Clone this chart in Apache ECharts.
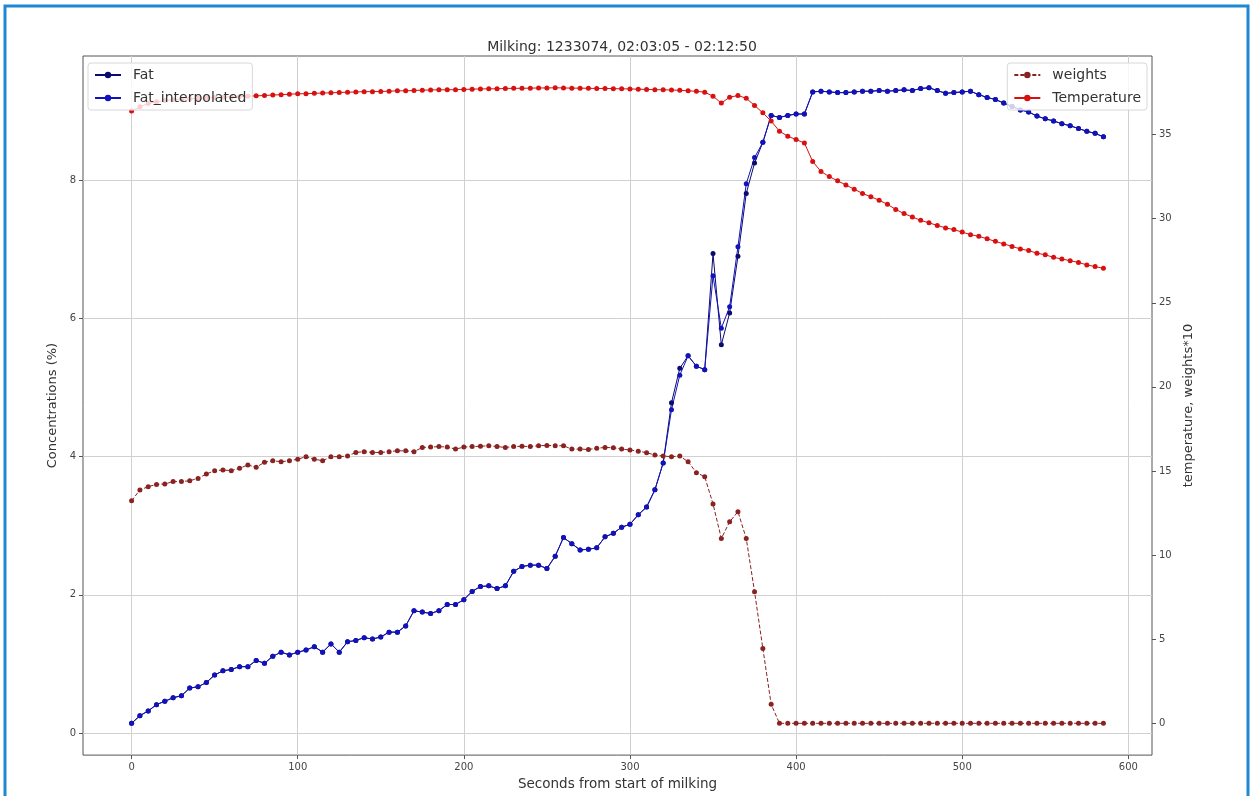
<!DOCTYPE html>
<html>
<head>
<meta charset="utf-8">
<title>Milking</title>
<script src="https://cdn.jsdelivr.net/npm/echarts@6/dist/echarts.min.js"></script>
<style>
html,body{margin:0;padding:0;background:#fff;}
#chart{width:1254px;height:796px;}
</style>
</head>
<body>
<div id="chart"></div>
<script>
// seconds from start of milking (one sample every 5 s)
var seconds = [0,5,10,15,20,25,30,35,40,45,50,55,60,65,70,75,80,85,90,95,
  100,105,110,115,120,125,130,135,140,145,150,155,160,165,170,175,180,185,190,195,
  200,205,210,215,220,225,230,235,240,245,250,255,260,265,270,275,280,285,290,295,
  300,305,310,315,320,325,330,335,340,345,350,355,360,365,370,375,380,385,390,395,
  400,405,410,415,420,425,430,435,440,445,450,455,460,465,470,475,480,485,490,495,
  500,505,510,515,520,525,530,535,540,545,550,555,560,565,570,575,580,585];

var fatValues = [0.14,0.25,0.32,0.41,0.46,0.51,0.54,0.65,0.67,0.73,0.84,0.90,0.92,0.96,0.96,1.05,1.01,1.11,1.17,1.13,
  1.17,1.20,1.25,1.17,1.29,1.17,1.32,1.34,1.38,1.36,1.39,1.46,1.46,1.55,1.77,1.75,1.73,1.77,1.86,1.86,
  1.93,2.05,2.12,2.13,2.09,2.13,2.34,2.41,2.43,2.43,2.38,2.56,2.83,2.74,2.65,2.66,2.68,2.84,2.89,2.98,
  3.02,3.16,3.27,3.52,3.91,4.78,5.28,5.46,5.31,5.26,6.94,5.62,6.08,6.90,7.81,8.25,8.55,8.94,8.91,8.94,
  8.96,8.96,9.28,9.29,9.28,9.27,9.27,9.28,9.29,9.29,9.30,9.29,9.30,9.31,9.30,9.33,9.34,9.30,9.26,9.27,
  9.28,9.29,9.24,9.20,9.17,9.12,9.07,9.02,8.99,8.93,8.89,8.86,8.82,8.79,8.75,8.71,8.68,8.63];

var fatInterpValues = [0.14,0.25,0.32,0.41,0.46,0.51,0.54,0.65,0.67,0.73,0.84,0.90,0.92,0.96,0.96,1.05,1.01,1.11,1.17,1.13,
  1.17,1.20,1.25,1.17,1.29,1.17,1.32,1.34,1.38,1.36,1.39,1.46,1.46,1.55,1.77,1.75,1.73,1.77,1.86,1.86,
  1.93,2.05,2.12,2.13,2.09,2.13,2.34,2.41,2.43,2.43,2.38,2.56,2.83,2.74,2.65,2.66,2.68,2.84,2.89,2.98,
  3.02,3.16,3.27,3.52,3.91,4.68,5.18,5.46,5.31,5.26,6.62,5.86,6.17,7.04,7.95,8.33,8.55,8.94,8.91,8.94,
  8.96,8.96,9.28,9.29,9.28,9.27,9.27,9.28,9.29,9.29,9.30,9.29,9.30,9.31,9.30,9.33,9.34,9.30,9.26,9.27,
  9.28,9.29,9.24,9.20,9.17,9.12,9.07,9.02,8.99,8.93,8.89,8.86,8.82,8.79,8.75,8.71,8.68,8.63];

// weights*10
var weightValues = [13.23,13.87,14.07,14.2,14.23,14.37,14.37,14.42,14.56,14.82,15.02,15.06,15.02,15.16,15.36,15.22,15.52,15.61,15.55,15.61,
  15.7,15.85,15.7,15.61,15.85,15.85,15.89,16.1,16.15,16.1,16.1,16.15,16.2,16.2,16.15,16.4,16.42,16.45,16.42,16.3,
  16.42,16.45,16.47,16.5,16.45,16.4,16.45,16.47,16.45,16.5,16.52,16.5,16.5,16.3,16.3,16.28,16.35,16.4,16.38,16.3,
  16.25,16.18,16.09,15.95,15.89,15.85,15.89,15.55,14.9,14.66,13.04,10.99,11.98,12.58,10.99,7.82,4.45,1.13,0,0,
  0,0,0,0,0,0,0,0,0,0,0,0,0,0,0,0,0,0,0,0,
  0,0,0,0,0,0,0,0,0,0,0,0,0,0,0,0,0,0];

var tempValues = [36.4,36.65,36.85,36.95,37.02,37.07,37.1,37.13,37.16,37.18,37.2,37.22,37.24,37.26,37.28,37.3,37.32,37.35,37.37,37.4,
  37.42,37.43,37.45,37.47,37.48,37.5,37.52,37.53,37.55,37.55,37.56,37.58,37.6,37.6,37.62,37.64,37.65,37.66,37.66,37.67,
  37.68,37.7,37.71,37.72,37.72,37.74,37.75,37.75,37.76,37.77,37.77,37.78,37.77,37.76,37.76,37.75,37.74,37.74,37.73,37.72,
  37.71,37.7,37.68,37.67,37.66,37.65,37.63,37.6,37.57,37.52,37.28,36.87,37.22,37.32,37.16,36.73,36.29,35.8,35.2,34.9,
  34.7,34.5,33.4,32.8,32.5,32.25,32.0,31.75,31.5,31.3,31.1,30.85,30.55,30.3,30.1,29.9,29.75,29.6,29.45,29.35,
  29.2,29.05,28.95,28.8,28.65,28.5,28.35,28.2,28.1,27.95,27.85,27.7,27.6,27.5,27.4,27.25,27.15,27.05];

var xTicks = [0,100,200,300,400,500,600];
var leftTicks = [0,2,4,6,8];
var rightTicks = [0,5,10,15,20,25,30,35];

function pairs(vals){
  var out = [];
  for (var i = 0; i < seconds.length; i++) out.push([seconds[i], vals[i]]);
  return out;
}

var FONT = 'DejaVu Sans';
var chart = echarts.init(document.getElementById('chart'), null, {renderer:'canvas'});

function lineSeries(name, vals, yIdx, color, dashed){
  return {
    name: name,
    type: 'line',
    yAxisIndex: yIdx,
    data: pairs(vals),
    symbol: 'circle',
    symbolSize: 5,
    showAllSymbol: true,
    lineStyle: {color: color, width: 1, type: dashed ? [4,2] : 'solid'},
    itemStyle: {color: color},
    emphasis: {disabled: true}
  };
}

var legendText = {fontFamily: FONT, fontSize: 14, color: '#333', padding: [0, 0, 0, 7]};

var option = {
  animation: false,
  backgroundColor: '#fff',
  textStyle: {fontFamily: FONT},
  title: {
    text: 'Milking: 1233074, 02:03:05 - 02:12:50',
    left: 617, top: 35, textAlign: 'center',
    textStyle: {fontFamily: FONT, fontSize: 14, fontWeight: 'normal', color: '#333'}
  },
  graphic: [{
    type: 'rect', silent: true, z: 100,
    shape: {x: 5, y: 6, width: 1243, height: 830},
    style: {fill: 'none', stroke: '#1e88d0', lineWidth: 3}
  }],
  legend: [{
    data: ['Fat', 'Fat_interpolated'],
    orient: 'vertical', left: 88, top: 63,
    padding: [5, 6], itemGap: 9, itemWidth: 26, itemHeight: 8,
    backgroundColor: 'rgba(255,255,255,0.8)', borderColor: '#d8d8d8', borderWidth: 1, borderRadius: 3,
    textStyle: legendText
  }, {
    data: ['weights', 'Temperature'],
    orient: 'vertical', right: 107, top: 63,
    padding: [5, 6], itemGap: 9, itemWidth: 26, itemHeight: 8,
    backgroundColor: 'rgba(255,255,255,0.8)', borderColor: '#d8d8d8', borderWidth: 1, borderRadius: 3,
    textStyle: legendText
  }],
  grid: {left: 83, top: 56, right: 102, bottom: 39, show: true, borderColor: '#555', borderWidth: 1, backgroundColor: 'transparent'},
  xAxis: {
    type: 'value', min: -29.25, max: 614.25,
    name: 'Seconds from start of milking', nameLocation: 'middle', nameGap: 21,
    nameTextStyle: {fontFamily: FONT, fontSize: 13.5, color: '#333'},
    axisLine: {show: false, onZero: false},
    axisTick: {show: true, length: 4, lineStyle: {color: '#555'}, customValues: xTicks},
    axisLabel: {fontFamily: FONT, fontSize: 10, color: '#444', margin: 7, customValues: xTicks},
    splitLine: {show: true, lineStyle: {color: '#d0d0d0', width: 1}}
  },
  yAxis: [{
    type: 'value', min: -0.32, max: 9.8, position: 'left',
    name: 'Concentrations (%)', nameLocation: 'middle', nameGap: 20, nameRotate: 90,
    nameTextStyle: {fontFamily: FONT, fontSize: 13, color: '#333'},
    axisLine: {show: false, onZero: false},
    axisTick: {show: true, length: 4, lineStyle: {color: '#555'}, customValues: leftTicks},
    axisLabel: {fontFamily: FONT, fontSize: 10, color: '#444', margin: 7, customValues: leftTicks},
    splitLine: {show: true, lineStyle: {color: '#d0d0d0', width: 1}}
  }, {
    type: 'value', min: -1.89, max: 39.67, position: 'right',
    name: 'temperature, weights*10', nameLocation: 'middle', nameGap: 26, nameRotate: 90,
    nameTextStyle: {fontFamily: FONT, fontSize: 13, color: '#333'},
    axisLine: {show: false, onZero: false},
    axisTick: {show: true, length: 4, lineStyle: {color: '#555'}, customValues: rightTicks},
    axisLabel: {fontFamily: FONT, fontSize: 10, color: '#444', margin: 7, customValues: rightTicks},
    splitLine: {show: false}
  }],
  series: [
    lineSeries('Fat', fatValues, 0, '#0a0a70', false),
    lineSeries('Fat_interpolated', fatInterpValues, 0, '#1212bc', false),
    lineSeries('weights', weightValues, 1, '#8a2222', true),
    lineSeries('Temperature', tempValues, 1, '#d81010', false)
  ]
};

chart.setOption(option);
window.onresize = chart.resize;
</script>
</body>
</html>
